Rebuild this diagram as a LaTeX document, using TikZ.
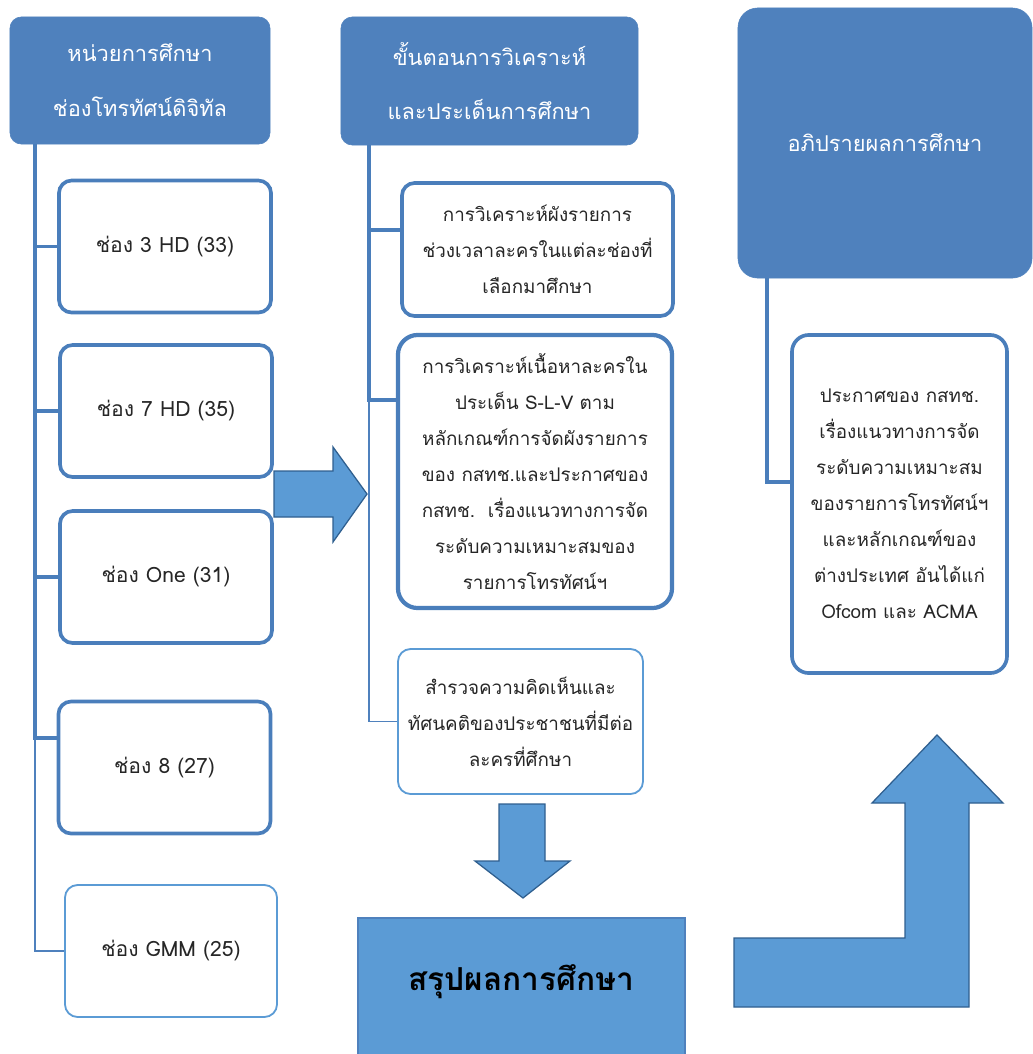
\documentclass[tikz,border=0pt]{standalone}
\usepackage{fontspec}
\newfontfamily\thaifont[Script=Thai]{Loma}

\definecolor{hdblue}{HTML}{4F81BD}
\definecolor{lnblue}{HTML}{4A7EBB}
\definecolor{ltblue}{HTML}{5B9BD5}
\definecolor{arredge}{HTML}{2F5F8F}

\tikzset{
  header/.style={fill=hdblue, draw=hdblue, rounded corners=8pt, text=white, align=center,
    font=\thaifont\fontsize{15.5}{39}\selectfont},
  chbox/.style={draw=lnblue, line width=2.6pt, fill=white, rounded corners=9pt, align=center,
    text=black!85, inner sep=0pt, minimum width=5.3cm, minimum height=3.3cm,
    font=\thaifont\fontsize{15}{25.6}\selectfont},
  thinbox/.style={chbox, draw=ltblue, line width=1.3pt},
  smalltext/.style={font=\thaifont\fontsize{13.4}{25.6}\selectfont},
  trunk/.style={draw=lnblue, line width=2.8pt},
  twig/.style={draw=hdblue, line width=1.4pt},
  blockarrow/.style={fill=ltblue, draw=arredge, line width=0.9pt, line join=miter}
}

\begin{document}
\begin{tikzpicture}[x=0.025cm,y=-0.025cm]
        \useasboundingbox (0,0) rectangle (1033,1054);
        % channels
        \node (h1) at (140,80.5) [header, minimum width=6.5cm, minimum height=3.175cm] {หน่วยการศึกษา\\ช่องโทรทัศน์ดิจิทัล};
        \node (c1) at (165,246.5) [chbox] {ช่อง 3 HD (33)};
        \node (c2) at (166,411) [chbox] {ช่อง 7 HD (35)};
        \node (c3) at (166,577) [chbox] {ช่อง One (31)};
        \node (c4) at (164.5,767.5) [chbox] {ช่อง 8 (27)};
        \node (c5) at (171,951) [thinbox] {ช่อง GMM (25)};
        \coordinate (t1) at (35,144);
        \coordinate (t4) at (35,738);
        \draw[trunk] (t1) -- (t4) -- (t4 -| c4.west);
        \draw[trunk] (t1 |- c1.west) -- (c1.west);
        \draw[trunk] (t1 |- c2.west) -- (c2.west);
        \draw[trunk] (t1 |- c3.west) -- (c3.west);
        \draw[twig] (t4) |- (c5.west);

        % analysis steps
        \node (h2) at (489.5,81) [header, minimum width=7.425cm, minimum height=3.2cm] {ขั้นตอนการวิเคราะห์\\และประเด็นการศึกษา};
        \node (m1) at (537.5,249.5) [chbox, smalltext, minimum width=6.775cm, minimum height=3.325cm] {การวิเคราะห์ผังรายการ\\ช่วงเวลาละครในแต่ละช่องที่\\เลือกมาศึกษา};
        \node (m2) at (535,471.5) [chbox, smalltext, line width=3pt, rounded corners=14pt, minimum width=6.85cm, minimum height=6.825cm] {การวิเคราะห์เนื้อหาละครใน\\ประเด็น S-L-V ตาม\\หลักเกณฑ์การจัดผังรายการ\\ของ กสทช.และประกาศของ\\กสทช.~~เรื่องแนวทางการจัด\\ระดับความเหมาะสมของ\\รายการโทรทัศน์ฯ};
        \node (m3) at (520.5,721.5) [thinbox, smalltext, minimum width=6.125cm, minimum height=3.625cm] {สำรวจความคิดเห็นและ\\ทัศนคติของประชาชนที่มีต่อ\\ละครที่ศึกษา};
        \coordinate (s1) at (369,145);
        \coordinate (s2) at (369,400);
        \coordinate (s3) at (369,230);
        \draw[trunk] (s1) -- (s2) -- (s2 -| m2.west);
        \draw[trunk] (s3) -- (s3 -| m1.west);
        \draw[twig] (s2) |- (m3.west);

        % discussion
        \node (h3) at (885,143) [header, rounded corners=14pt, minimum width=7.35cm, minimum height=6.75cm] {อภิปรายผลการศึกษา};
        \node (r1) at (899.5,504) [chbox, smalltext, rounded corners=12pt, minimum width=5.375cm, minimum height=8.45cm] {ประกาศของ กสทช.\\เรื่องแนวทางการจัด\\ระดับความเหมาะสม\\ของรายการโทรทัศน์ฯ\\และหลักเกณฑ์ของ\\ต่างประเทศ อันได้แก่\\Ofcom และ ACMA};
        \coordinate (d1) at (767,278);
        \coordinate (d2) at (767,482);
        \draw[trunk] (d1) -- (d2) -- (d2 -| r1.west);

        % conclusion
        \node (sum) at (521.5,990) [fill=ltblue, draw=hdblue, line width=0.8pt, minimum width=8.175cm, minimum height=3.6cm,
          text height=20pt, text depth=20pt, font=\thaifont\bfseries\fontsize{22.5}{28}\selectfont] {สรุปผลการศึกษา};

        % block arrows
        \filldraw[blockarrow] (274,471) -- (333,471) -- (333,447) -- (367,494) -- (333,542) -- (333,517) -- (274,517) -- cycle;
        \filldraw[blockarrow] (499,804) -- (545,804) -- (545,861) -- (570,861) -- (523,898) -- (475,861) -- (499,861) -- cycle;
        \filldraw[blockarrow] (734,938) -- (905,938) -- (905,803) -- (872,803) -- (937,735) -- (1003,803) -- (969,803) -- (969,1007) -- (734,1007) -- cycle;
\end{tikzpicture}
\end{document}
